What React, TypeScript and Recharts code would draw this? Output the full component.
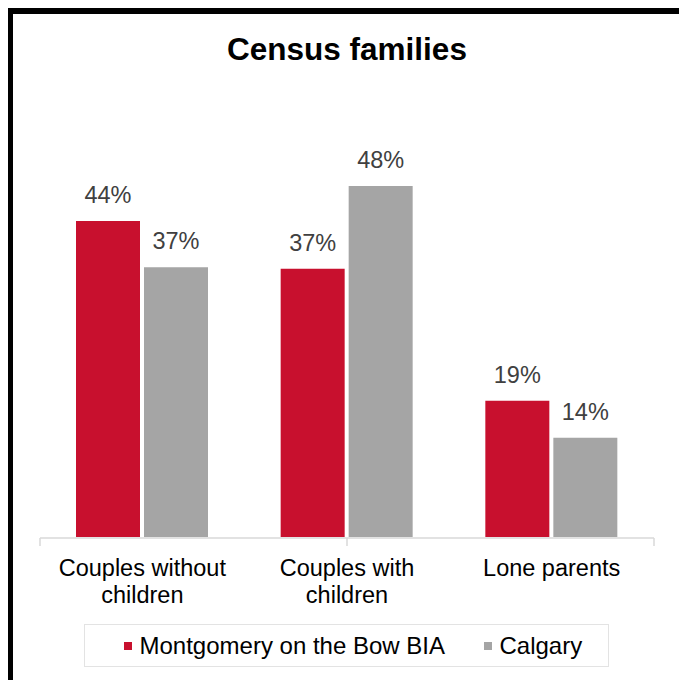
import React from 'react';
import { BarChart, Bar, XAxis, YAxis, LabelList } from 'recharts';

const categories = ['Couples without\nchildren', 'Couples with\nchildren', 'Lone parents'];
const montgomery = [43.6, 37.0, 18.8];
const calgary = [37.2, 48.4, 13.7];
const seriesNames = ['Montgomery on the Bow BIA', 'Calgary'];
const seriesColors = ['#C8102E', '#A5A5A5'];
const edgeTicks = [0, 1, 2, 3];

const FONT = '"Liberation Sans", Arial, sans-serif';

const data = categories.map((name, i) => ({
  name,
  bia: montgomery[i],
  calgary: calgary[i],
}));

function CategoryTick({ x, y, payload }: any) {
  const lines = String(payload.value).split('\n');
  return (
    <text x={x} y={y} textAnchor="middle" fill="#000" fontSize={23.5} fontFamily={FONT}>
      {lines.map((line, i) => (
        <tspan key={i} x={x} dy={i === 0 ? 39 : 27}>
          {line}
        </tspan>
      ))}
    </text>
  );
}

const EmptyTick = () => <g />;

const pct = (v: any) => `${Math.round(Number(v))}%`;

function LegendBox() {
  return (
    <div
      style={{
        position: 'absolute',
        left: 84,
        top: 624,
        width: 525,
        height: 43,
        boxSizing: 'border-box',
        border: '1.5px solid #E3E3E3',
        display: 'flex',
        alignItems: 'center',
        paddingLeft: 39,
        fontFamily: FONT,
        fontSize: 24,
        color: '#000',
        whiteSpace: 'nowrap',
      }}
    >
      {seriesNames.map((name, i) => (
        <div
          key={name}
          style={{ display: 'flex', alignItems: 'center', marginRight: 39, flexShrink: 0 }}
        >
          <span
            style={{ width: 8, height: 8, background: seriesColors[i], marginRight: 7.5, flexShrink: 0 }}
          />
          <span style={{ lineHeight: 1 }}>{name}</span>
        </div>
      ))}
    </div>
  );
}

export default function App() {
  return (
    <div
      style={{
        position: 'absolute',
        left: 0,
        top: 0,
        width: 679,
        height: 680,
        overflow: 'hidden',
        background: '#fff',
      }}
    >
      <div
        style={{
          position: 'absolute',
          left: 8,
          top: 8,
          width: 720,
          height: 720,
          borderTop: '6px solid #000',
          borderLeft: '5px solid #000',
          boxSizing: 'border-box',
        }}
      />
      <div
        style={{
          position: 'absolute',
          left: 0,
          top: 34,
          width: 694,
          textAlign: 'center',
          fontFamily: FONT,
          fontWeight: 'bold',
          fontSize: 31.5,
          lineHeight: 1,
          color: '#000',
        }}
      >
        Census families
      </div>
      <div style={{ position: 'absolute', left: 0, top: 0 }}>
        <BarChart
          width={679}
          height={680}
          data={data}
          margin={{ top: 102, right: 25, bottom: 141, left: 40 }}
          barSize={64}
          barGap={4}
        >
          <XAxis
            xAxisId="edges"
            type="number"
            domain={[0, 3]}
            ticks={edgeTicks}
            interval={0}
            height={1}
            tick={<EmptyTick />}
            tickSize={8}
            axisLine={{ stroke: '#D9D9D9', strokeWidth: 1.5 }}
            tickLine={{ stroke: '#D9D9D9', strokeWidth: 1.5 }}
            allowDataOverflow
          />
          <XAxis
            dataKey="name"
            height={1}
            axisLine={false}
            tickLine={false}
            tickSize={0}
            tickMargin={0}
            interval={0}
            tick={<CategoryTick />}
          />
          <YAxis hide domain={[0, 60]} />
          <Bar dataKey="bia" name={seriesNames[0]} fill={seriesColors[0]} isAnimationActive={false}>
            <LabelList
              dataKey="bia"
              position="top"
              offset={18}
              formatter={pct}
              fill="#404040"
              fontSize={23.5}
              fontFamily={FONT}
            />
          </Bar>
          <Bar dataKey="calgary" name={seriesNames[1]} fill={seriesColors[1]} isAnimationActive={false}>
            <LabelList
              dataKey="calgary"
              position="top"
              offset={18}
              formatter={pct}
              fill="#404040"
              fontSize={23.5}
              fontFamily={FONT}
            />
          </Bar>
        </BarChart>
      </div>
      <LegendBox />
    </div>
  );
}
